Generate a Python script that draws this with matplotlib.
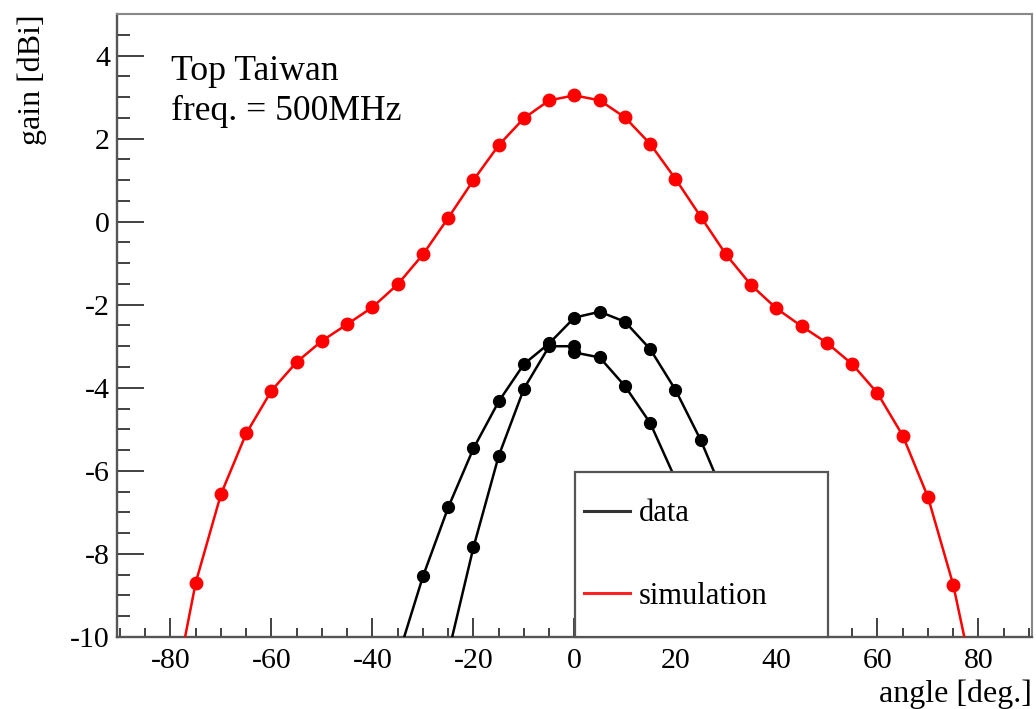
import matplotlib
matplotlib.use("Agg")
import matplotlib.pyplot as plt
from matplotlib.lines import Line2D
from matplotlib.patches import Rectangle
from matplotlib.ticker import MultipleLocator

plt.rcParams['font.family'] = ['Liberation Serif', 'DejaVu Serif']
plt.rcParams['axes.unicode_minus'] = False

# ---- data ----
sim_angle = [-80, -75, -70, -65, -60, -55, -50, -45, -40, -35, -30, -25, -20, -15, -10, -5,
             0, 5, 10, 15, 20, 25, 30, 35, 40, 45, 50, 55, 60, 65, 70, 75, 80]
sim_gain = [-11.8, -8.69, -6.56, -5.10, -4.07, -3.38, -2.87, -2.47, -2.06, -1.51, -0.79, 0.09,
            1.00, 1.84, 2.49, 2.92, 3.04, 2.92, 2.51, 1.87, 1.03, 0.12, -0.79, -1.53, -2.09,
            -2.52, -2.92, -3.43, -4.13, -5.15, -6.63, -8.74, -11.6]

data1_angle = [-35, -30, -25, -20, -15, -10, -5, 0, 5, 10, 15, 20, 25, 30, 35, 40]
data1_gain = [-10.5, -8.54, -6.88, -5.46, -4.33, -3.43, -2.93, -2.31, -2.17, -2.41, -3.07,
              -4.05, -5.26, -6.7, -8.4, -10.4]

data2_angle = [-25, -20, -15, -10, -5, 0, 0, 5, 10, 15, 20, 25, 30, 35]
data2_gain = [-10.4, -7.84, -5.64, -4.02, -3.0, -3.0, -3.15, -3.27, -3.96, -4.85, -6.2,
              -7.6, -9.3, -11.3]

x_ticks = [-80, -60, -40, -20, 0, 20, 40, 60, 80]
y_ticks = [-10, -8, -6, -4, -2, 0, 2, 4]
legend_labels = ["data", "simulation"]

# ---- figure ----
fig = plt.figure(figsize=(10.36, 7.09), dpi=100)
ax = fig.add_axes([0.1129, 0.1016, 0.8832, 0.8787])

ax.plot(sim_angle, sim_gain, color='#ff0000', lw=1.8, marker='o', ms=9, zorder=3)
ax.plot(data1_angle, data1_gain, color='black', lw=1.8, marker='o', ms=8.5, zorder=3)
ax.plot(data2_angle, data2_gain, color='black', lw=1.8, marker='o', ms=8.5, zorder=3)

ax.set_xlim(-90.6, 90.6)
ax.set_ylim(-10, 5)
ax.set_xticks(x_ticks)
ax.set_xticklabels([str(v) for v in x_ticks])
ax.set_yticks(y_ticks)
ax.set_yticklabels([str(v) for v in y_ticks])
ax.xaxis.set_minor_locator(MultipleLocator(5))
ax.yaxis.set_minor_locator(MultipleLocator(0.5))

ax.tick_params(axis='both', which='both', direction='in', top=False, right=False,
               colors='#333333', labelcolor='black', labelsize=21.5, width=1.3)
ax.tick_params(axis='y', which='major', length=19.5, pad=5)
ax.tick_params(axis='y', which='minor', length=9.5)
ax.tick_params(axis='x', which='major', length=13.5, pad=8)
ax.tick_params(axis='x', which='minor', length=6.5)

for s in ['left', 'bottom']:
    ax.spines[s].set_color('#555555')
    ax.spines[s].set_linewidth(1.7)
for s in ['top', 'right']:
    ax.spines[s].set_color('#888888')
    ax.spines[s].set_linewidth(1.5)

ax.set_xlabel("angle [deg.]", fontsize=23, loc='right')
ax.xaxis.set_label_coords(1.0, -0.069)
ax.xaxis.label.set_va('top')
ax.set_ylabel("gain [dBi]", fontsize=23, loc='top')
ax.yaxis.set_label_coords(-0.0765, 1.0)

ax.text(0.059, 0.894, "Top Taiwan", transform=ax.transAxes, fontsize=25.7, va='baseline', ha='left')
ax.text(0.059, 0.830, "freq. = 500MHz", transform=ax.transAxes, fontsize=25.7, va='baseline', ha='left')

# legend box
rect = Rectangle((0.5005, 0.0), 0.2765, 0.265, transform=ax.transAxes, facecolor='white',
                 edgecolor='#555555', lw=1.6, zorder=5, clip_on=False)
ax.add_patch(rect)
handles = [Line2D([], [], color='#333333', lw=2.2),
           Line2D([], [], color='#ff2222', lw=2.2)]
leg = ax.legend(handles, legend_labels, loc='center left', bbox_to_anchor=(0.5104, 0.1316),
                frameon=False, fontsize=22, handlelength=1.5, handletextpad=0.3,
                labelspacing=1.75, borderpad=0, borderaxespad=0)
leg.set_zorder(6)

fig.savefig("out.png", dpi=100)
